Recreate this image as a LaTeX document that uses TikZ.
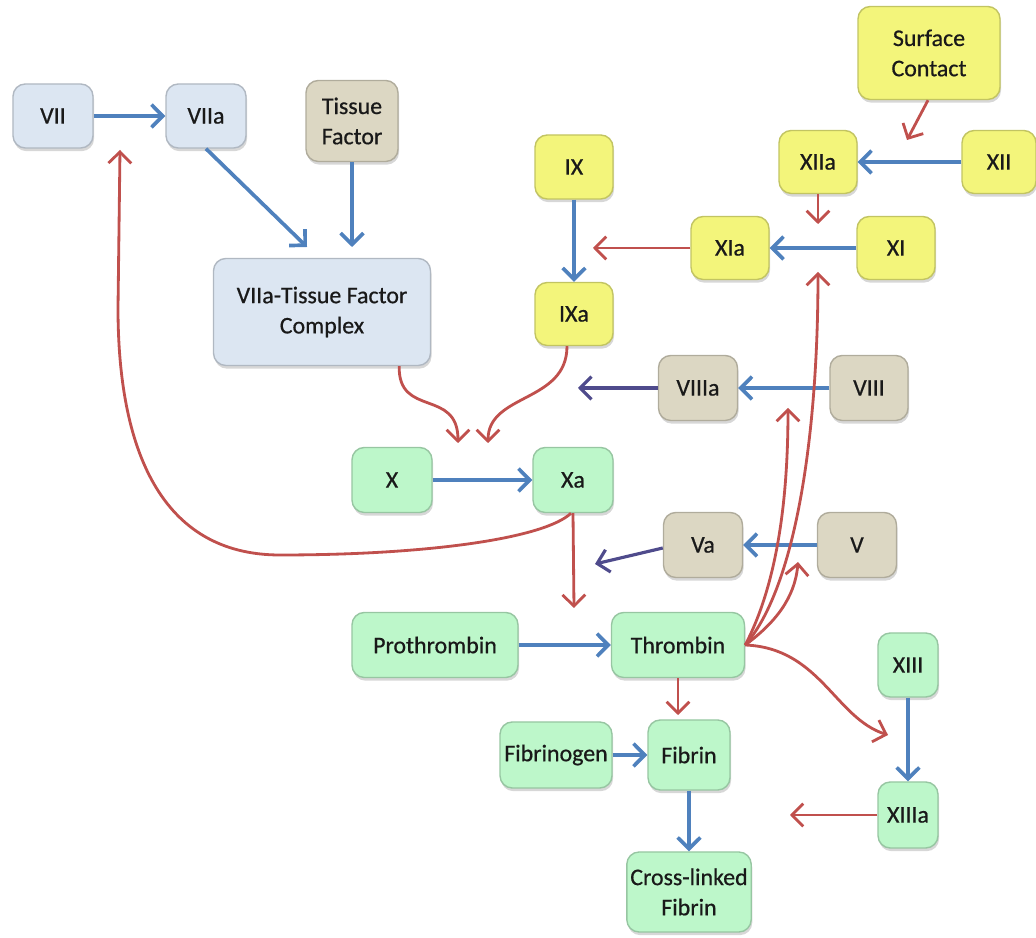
\documentclass[tikz,border=0pt]{standalone}
\usepackage{fontspec}
\setmainfont{Carlito}
\newfontfamily\boxfont{Carlito}[FakeBold=0.6]
\usepackage{xcolor}
\usetikzlibrary{positioning, calc, arrows.meta, shadows}

\definecolor{boxblue}{HTML}{DCE6F2}
\definecolor{boxtan}{HTML}{DCD7C3}
\definecolor{boxyellow}{HTML}{F3F57B}
\definecolor{boxgreen}{HTML}{BDF7CA}
\definecolor{arrblue}{HTML}{4F81BD}
\definecolor{arrred}{HTML}{C0504D}
\definecolor{arrpurple}{HTML}{4F4B8C}

\tikzset{
  factor/.style={draw=#1!80!black, fill=#1, rounded corners=3.5pt, align=center,
    inner sep=1pt, line width=0.4pt, text=black!90, font=\boxfont\fontsize{6.8}{8.6}\selectfont,
    drop shadow={shadow xshift=0.3pt, shadow yshift=-0.9pt, fill=black!45, opacity=0.35}},
  small/.style={minimum width=0.78cm, minimum height=0.64cm},
  blueline/.style={->, arrblue, line width=1.05pt},
  redline/.style={->, arrred, line width=0.8pt},
  purpleline/.style={->, arrpurple, line width=0.9pt}
}

\begin{document}
\begin{tikzpicture}[scale=1.0, >={Straight Barb[length=3.2pt,width=6.5pt]}]
        \useasboundingbox (0,0) rectangle (10.36,9.38);

        % ==========================================
        % EXTRINSIC PATHWAY
        % ==========================================
        \node[factor=boxblue, small, minimum width=0.80cm] (vii) at (0.53, 8.22) {VII};
        \node[factor=boxblue, small, minimum width=0.80cm] (viia) at (2.06, 8.22) {VIIa};
        \node[factor=boxtan, minimum width=0.92cm, minimum height=0.81cm] (tf) at (3.52, 8.17) {Tissue\\Factor};
        \node[factor=boxblue, minimum width=2.17cm, minimum height=1.07cm] (cx) at (3.22, 6.26) {VIIa-Tissue Factor\\Complex};

        \coordinate (cxin1) at (3.07, 6.91);
        \coordinate (cxin2) at (3.52, 6.91);

        \draw[blueline] (vii) -- (viia);
        \draw[blueline] (viia.south) -- (cxin1);
        \draw[blueline] (tf) -- (cxin2);

        % ==========================================
        % INTRINSIC PATHWAY
        % ==========================================
        \node[factor=boxyellow, minimum width=1.42cm, minimum height=0.93cm] (sc) at (9.29, 8.85) {Surface\\Contact};
        \node[factor=boxyellow, small, minimum height=0.63cm] (xiia) at (8.18, 7.76) {XIIa};
        \node[factor=boxyellow, small, minimum width=0.74cm, minimum height=0.63cm] (xii) at (9.99, 7.76) {XII};
        \node[factor=boxyellow, small, minimum height=0.63cm] (xia) at (7.30, 6.90) {XIa};
        \node[factor=boxyellow, small, minimum height=0.63cm] (xi) at (8.96, 6.90) {XI};
        \node[factor=boxyellow, small] (ix) at (5.74, 7.71) {IX};
        \node[factor=boxyellow, small, minimum height=0.63cm] (ixa) at (5.74, 6.24) {IXa};

        \coordinate (xiiain) at (9.07, 7.98);
        \coordinate (xiain) at (8.18, 7.14);
        \coordinate (ixain) at (5.93, 6.90);

        \draw[blueline] (xii) -- (xiia);
        \draw[blueline] (xi) -- (xia);
        \draw[blueline] (ix) -- (ixa);
        \draw[redline] ([xshift=-0.01cm]sc.south) -- (xiiain);
        \draw[redline] (xiia.south) -- (xiain);
        \draw[redline] (xia) -- (ixain);

        % ==========================================
        % COFACTORS VIII AND V
        % ==========================================
        \node[factor=boxtan, small, minimum width=0.79cm, minimum height=0.65cm] (viiia) at (6.98, 5.50) {VIIIa};
        \node[factor=boxtan, small, minimum height=0.65cm] (viii) at (8.69, 5.50) {VIII};
        \node[factor=boxtan, small, minimum width=0.79cm, minimum height=0.65cm] (va) at (7.03, 3.93) {Va};
        \node[factor=boxtan, small, minimum width=0.79cm, minimum height=0.65cm] (v) at (8.57, 3.93) {V};

        \coordinate (viiiaout) at (5.78, 5.50);
        \coordinate (vaout) at (5.95, 3.74);

        \draw[blueline] (viii) -- (viiia);
        \draw[blueline] (v) -- (va);
        \draw[purpleline] (viiia) -- (viiiaout);
        \draw[purpleline] ([yshift=-0.03cm]va.west) -- (vaout);

        % ==========================================
        % COMMON PATHWAY
        % ==========================================
        \node[factor=boxgreen, small, minimum width=0.80cm, minimum height=0.65cm] (x) at (3.92, 4.58) {X};
        \node[factor=boxgreen, small, minimum width=0.80cm, minimum height=0.65cm] (xa) at (5.73, 4.58) {Xa};
        \node[factor=boxgreen, minimum width=1.66cm, minimum height=0.65cm] (pro) at (4.35, 2.93) {Prothrombin};
        \node[factor=boxgreen, minimum width=1.33cm, minimum height=0.65cm] (thr) at (6.78, 2.93) {Thrombin};
        \node[factor=boxgreen, minimum width=1.12cm, minimum height=0.66cm] (fbg) at (5.56, 1.83) {Fibrinogen};
        \node[factor=boxgreen, minimum width=0.82cm, minimum height=0.70cm] (fib) at (6.89, 1.83) {Fibrin};
        \node[factor=boxgreen, minimum width=1.22cm, minimum height=0.80cm] (clf) at (6.89, 0.46) {Cross-linked\\Fibrin};
        \node[factor=boxgreen, minimum width=0.60cm, minimum height=0.64cm] (xiii) at (9.08, 2.73) {XIII};
        \node[factor=boxgreen, minimum width=0.60cm, minimum height=0.66cm] (xiiia) at (9.08, 1.23) {XIIIa};

        \coordinate (xin1) at (4.58, 4.95);
        \coordinate (xin2) at (4.88, 4.95);
        \coordinate (proin) at (5.74, 3.30);
        \coordinate (viiin) at (1.20, 7.88);
        \coordinate (xiin) at (8.18, 6.66);
        \coordinate (viiiin) at (7.88, 5.30);
        \coordinate (vin) at (7.98, 3.76);
        \coordinate (xiiiin) at (8.88, 2.03);
        \coordinate (fbgin) at (6.78, 2.23);
        \coordinate (fibin) at (7.90, 1.23);

        \draw[blueline] (x) -- (xa);
        \draw[blueline] (pro) -- (thr);
        \draw[blueline] (fbg) -- (fib);
        \draw[blueline] (fib) -- (clf);
        \draw[blueline] (xiii) -- (xiiia);

        % Activation of X
        \draw[redline] ([xshift=-0.32cm]cx.south east) .. controls (3.98, 5.20) and (4.58, 5.50) .. (xin1);
        \draw[redline] ([xshift=-0.07cm]ixa.south) .. controls (5.67, 5.35) and (4.88, 5.45) .. (xin2);

        % Xa feedback and prothrombin
        \draw[redline] (xa.south) -- (proin);
        \draw[redline] ([xshift=-0.02cm]xa.south) .. controls (5.45, 4.00) and (4.30, 3.83) .. (2.80, 3.83)
              .. controls (1.60, 3.83) and (1.18, 4.90) .. (1.18, 6.30) -- (viiin);

        % Thrombin feedback
        \draw[redline] (thr.east) .. controls (7.95, 3.50) and (8.18, 5.00) .. (xiin);
        \draw[redline] (thr.east) .. controls (7.75, 3.50) and (7.88, 4.30) .. (viiiin);
        \draw[redline] (thr.east) .. controls (7.75, 3.15) and (7.95, 3.40) .. (vin);
        \draw[redline] (thr.east) .. controls (8.20, 2.90) and (8.35, 2.20) .. (xiiiin);
        \draw[redline] (thr.south) -- (fbgin);
        \draw[redline] (xiiia) -- (fibin);

\end{tikzpicture}
\end{document}
